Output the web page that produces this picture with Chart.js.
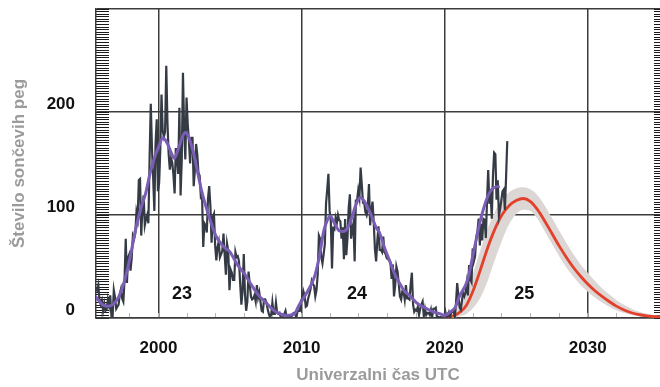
<!DOCTYPE html>
<html><head><meta charset="utf-8">
<script src="https://cdn.jsdelivr.net/npm/chart.js@4.4.1/dist/chart.umd.min.js"></script>
<style>html,body{margin:0;padding:0;background:#fff;}canvas{display:block;}</style>
</head><body>
<canvas id="c" width="660" height="387"></canvas>
<script>
// ---- data ----
const firstYear = 1995, firstMonth = 7; // first monthly value: July 1995
const monthlySN = [
  20, 29, 27, 32, 17, 13,
  17, 7, 14, 7, 8, 18, 12, 22, 2, 1.5, 27, 20,
  9, 11, 13, 23, 28, 19, 16, 37, 77, 34, 59, 62,
  46, 58, 80, 77, 82, 103, 97, 134, 135, 80, 107, 119,
  90, 96, 100, 92, 154, 208, 165, 136, 104, 169, 193, 123,
  131, 164, 217, 182, 176, 181, 245, 189, 159, 144, 155, 151,
  139, 121, 165, 156, 140, 204, 119, 154, 238, 182, 154, 214,
  188, 172, 150, 175, 175, 128, 144, 169, 159, 141, 138, 118,
  120, 69, 92, 90, 83, 116, 128, 109, 73, 98, 101, 70,
  56, 69, 74, 59, 62, 65, 82, 61, 42, 72, 65, 27,
  47, 44, 37, 37, 64, 59, 60, 55, 33, 13, 27, 62,
  23, 7, 16, 45, 33, 21, 18, 19, 22, 16, 32, 20,
  25, 16, 7, 6, 18, 18, 15, 9, 4, 1, 3, 15,
  4, 4, 15, 5, 4, 5, 1, 0, 1, 4, 7, 1,
  2, 2, 1, 1, 4, 5, 5, 0, 6, 7, 7, 17,
  19, 26, 22, 11, 12, 19, 23, 28, 36, 33, 31, 21,
  27, 42, 80, 77, 59, 53, 62, 72, 111, 125, 140, 104,
  94, 48, 87, 86, 97, 92, 100, 95, 94, 77, 88, 57,
  96, 61, 78, 107, 120, 77, 86, 92, 55, 114, 114, 124,
  117, 146, 129, 112, 112, 103, 100, 107, 130, 90, 104, 113,
  93, 67, 55, 75, 89, 66, 66, 64, 79, 64, 62, 58,
  57, 56, 54, 38, 52, 21, 32, 50, 45, 33, 21, 18,
  26, 26, 18, 32, 19, 19, 18, 33, 44, 13, 6, 8,
  7, 11, 3, 9, 13, 16, 2, 9, 3, 5, 5, 3,
  8, 1, 9, 9, 10, 1, 1, 0.5, 1, 0.4, 0.5, 1.5,
  6.2, 0.2, 1.5, 5.2, 0.2, 5.8, 6.1, 7.5, 0.6, 14.4, 34.0, 21.8,
  10.4, 8.2, 17.2, 24.5, 21.2, 25.0, 34.0, 22.0, 51.3, 37.4, 34.8, 67.5,
  55.3, 59.9, 78.5, 84.1, 96.5, 70.5, 91.4, 75.4, 96.3, 95.4, 77.6, 113.1,
  143.6, 110.9, 122.6, 96.4, 137.9, 160.5, 159.1, 114.8, 133.6, 99.4, 105.4, 114.2,
  123.0, 124.7, 104.9, 136.5, 171.7
];
const smoothedYears = [1995.6, 1996.0, 1996.4, 1996.8, 1997.2, 1997.6, 1998.0, 1998.4, 1998.8, 1999.1, 1999.45, 1999.8,
  2000.0, 2000.3, 2000.6, 2000.9, 2001.1, 2001.4, 2001.7, 2001.9, 2002.2, 2002.5, 2002.8, 2003.0, 2003.5,
  2004.0, 2004.5, 2005.0, 2005.5, 2006.0, 2006.5, 2007.0, 2007.5, 2008.0, 2008.5, 2009.0, 2009.5, 2009.8,
  2010.3, 2010.9, 2011.2, 2011.56, 2011.8, 2012.0, 2012.3, 2012.6, 2012.9, 2013.2, 2013.5, 2013.8, 2014.1,
  2014.4, 2014.86, 2015.2, 2015.44, 2015.8, 2016.14, 2016.5, 2016.84, 2017.2, 2017.54, 2018.1, 2018.7,
  2019.2, 2019.7, 2019.95, 2020.4, 2020.77, 2021.0, 2021.6, 2022.05, 2022.5, 2022.98, 2023.33, 2023.85];
const smoothedSN = [21, 14, 11.5, 13, 20, 35, 58, 86, 108, 121, 143, 159,
  166, 175, 170, 160, 155, 165, 177, 180, 172, 157, 137, 124, 100,
  80, 70, 64, 52, 43, 32, 22, 15, 8, 4, 2.5, 4, 12,
  23, 40, 57, 85, 95, 99, 92, 85, 84, 87, 97, 110, 117,
  113, 100, 88, 83, 68, 56, 43, 34, 26, 22, 14, 9.4,
  6, 4, 2.5, 6, 11, 20, 37, 66, 95, 117, 125.5, 128];
const predYears = [2019.9, 2020.5, 2021, 2021.5, 2022, 2022.5, 2023, 2023.5, 2024, 2024.5, 2025, 2025.5,
  2026, 2026.5, 2027, 2027.5, 2028, 2028.5, 2029, 2029.5, 2030, 2030.5, 2031, 2031.5, 2032, 2032.5,
  2033, 2033.5, 2034, 2034.5, 2035, 2035.5];
const predSN = [0, 1.5, 5, 12, 27, 47, 68, 86, 100, 109, 114, 116,
  113, 105, 94, 82, 70, 59, 49, 40.5, 33, 26.5, 21, 16, 11.5, 8,
  5.3, 3.5, 2.3, 1.5, 1, 0.6];
const predUpper = [0.5, 5, 12, 24, 44, 66, 87, 103, 115, 122, 126, 127,
  125, 119, 109, 97, 85, 73, 62, 52, 44, 36, 29, 23, 17.5, 13,
  9.5, 6.5, 4.5, 3.2, 2.2, 1.5];
const predLower = [0, 0, 1.5, 4, 10, 20, 36, 56, 75, 91, 101, 105,
  104, 96, 84, 72, 60, 49, 40, 32, 25.5, 20, 15, 11, 7.5, 5,
  3.2, 2, 1.2, 0.7, 0.4, 0.2];
const xTickYears = [2000, 2010, 2020, 2030];
const yTickValues = [0, 100, 200, 300];
const yTickLabels = ['0', '100', '200', ''];
const cycleLabels = ['23', '24', '25'];
const cycleLabelYears = [2001.64, 2013.87, 2025.56];
const cycleLabelValue = 23;

// ---- build ----
const monthlyPts = monthlySN.map((v, i) => {
  const m = firstMonth - 1 + i;
  return {x: firstYear + Math.floor(m / 12) + ((m % 12) + 0.5) / 12, y: v};
});
const pts = (xs, ys) => xs.map((x, i) => ({x, y: ys[i]}));
const minorYTicks = Array.from({length: 121}, (_, i) => i * 2.5);
const minorXTicks = Array.from({length: 20}, (_, i) => 1996 + i * 2);

const FONT = '"Liberation Sans", Arial, Helvetica, sans-serif';
Chart.defaults.font.family = FONT;

const cyclePlugin = {
  id: 'cycleLabels',
  afterDatasetsDraw(chart) {
    const {ctx, scales: {x, y}} = chart;
    ctx.save();
    ctx.font = 'bold 18px ' + FONT;
    ctx.fillStyle = '#111';
    ctx.textAlign = 'center';
    ctx.textBaseline = 'middle';
    cycleLabels.forEach((t, i) => ctx.fillText(t, x.getPixelForValue(cycleLabelYears[i]), y.getPixelForValue(cycleLabelValue)));
    ctx.restore();
  }
};

const GRID = '#3c3c3c';
new Chart(document.getElementById('c'), {
  type: 'line',
  data: {
    datasets: [
      {data: pts(smoothedYears, smoothedSN), borderColor: '#7a5db5', borderWidth: 3, cubicInterpolationMode: 'monotone', pointRadius: 0, fill: false},
      {data: monthlyPts, borderColor: '#353b45', borderWidth: 2.2, tension: 0, pointRadius: 0, fill: false},
      {data: pts(predYears, predSN), borderColor: '#e3402b', borderWidth: 2.8, cubicInterpolationMode: 'monotone', pointRadius: 0, fill: false},
      {data: pts(predYears, predUpper), borderWidth: 0, borderColor: 'rgba(0,0,0,0)', backgroundColor: '#dcd6d4', cubicInterpolationMode: 'monotone', pointRadius: 0, fill: '+1'},
      {data: pts(predYears, predLower), borderWidth: 0, borderColor: 'rgba(0,0,0,0)', cubicInterpolationMode: 'monotone', pointRadius: 0, fill: false}
    ]
  },
  options: {
    responsive: false,
    animation: false,
    devicePixelRatio: 1,
    layout: {padding: {top: 9, left: 0, right: 0, bottom: 0}},
    plugins: {legend: {display: false}, tooltip: {enabled: false}},
    scales: {
      x: {
        type: 'linear', position: 'bottom', weight: 10,
        min: 1995.63, max: 2035.05,
        afterBuildTicks: s => { s.ticks = xTickYears.map(v => ({value: v})); },
        afterFit: s => { s.height = 69; s.paddingLeft = 0; s.paddingRight = 0; },
        grid: {color: GRID, lineWidth: 1.5, drawTicks: false},
        border: {display: true, color: GRID, width: 1.5},
        ticks: {color: '#111', font: {size: 17, weight: 'bold'}, padding: 20, maxRotation: 0, autoSkip: false,
          callback: v => String(v)},
        title: {display: true, text: 'Univerzalni čas UTC', color: '#9b9b9b', font: {size: 17, weight: 'bold'}, padding: {top: 0, bottom: 1}}
      },
      xMinor: {
        type: 'linear', position: 'bottom', weight: 0,
        min: 1995.63, max: 2035.05,
        afterBuildTicks: s => { s.ticks = minorXTicks.map(v => ({value: v})); },
        afterFit: s => { s.height = 0; s.paddingLeft = 0; s.paddingRight = 0; },
        grid: {drawOnChartArea: false, drawTicks: true, tickLength: -5, tickColor: '#b5b5b5', tickWidth: 1},
        border: {display: false},
        ticks: {display: false}
      },
      y: {
        type: 'linear', position: 'left', weight: 10,
        min: 0, max: 300,
        afterBuildTicks: s => { s.ticks = yTickValues.map(v => ({value: v})); },
        afterFit: s => { s.width = 96; s.paddingTop = 0; s.paddingBottom = 0; },
        grid: {color: GRID, lineWidth: 1.5, drawTicks: false},
        border: {display: true, color: GRID, width: 1.5},
        ticks: {color: '#111', font: {size: 17, weight: 'bold'}, padding: 21, labelOffset: -8,
          callback: (v, i) => yTickLabels[yTickValues.indexOf(v)]},
        title: {display: true, text: 'Število sončevih peg', color: '#9b9b9b', font: {size: 17, weight: 'bold'}, padding: {top: 9, bottom: 0}}
      },
      yMinor: {
        type: 'linear', position: 'left', weight: 0,
        min: 0, max: 300,
        afterBuildTicks: s => { s.ticks = minorYTicks.map(v => ({value: v})); },
        afterFit: s => { s.width = 0; s.paddingTop = 0; s.paddingBottom = 0; },
        grid: {drawOnChartArea: false, drawTicks: true, tickLength: -13, tickColor: '#1a1a1a', tickWidth: 1},
        border: {display: false},
        ticks: {display: false}
      },
      yRight: {
        type: 'linear', position: 'right', weight: 0,
        min: 0, max: 300,
        afterBuildTicks: s => { s.ticks = minorYTicks.map(v => ({value: v})); },
        afterFit: s => { s.width = 0; s.paddingTop = 0; s.paddingBottom = 0; },
        grid: {drawOnChartArea: false, drawTicks: true, tickLength: -6, tickColor: '#1a1a1a', tickWidth: 1},
        border: {display: false},
        ticks: {display: false}
      }
    }
  },
  plugins: [cyclePlugin]
});
</script>
</body></html>
